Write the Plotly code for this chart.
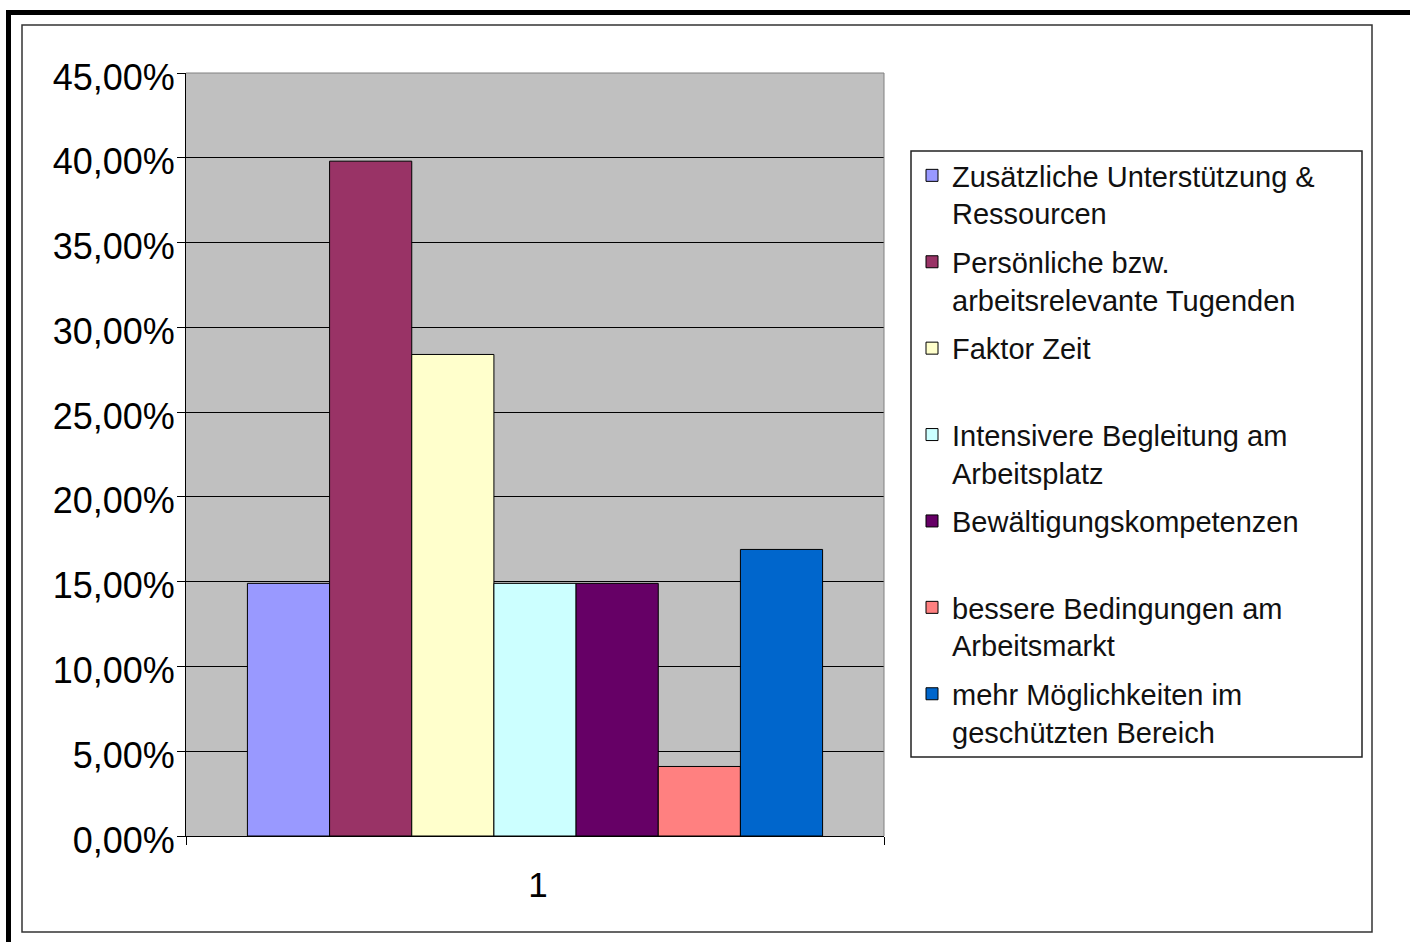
import plotly.graph_objects as go

category = ["1"]
series_names = [
    "Zusätzliche Unterstützung &<br>Ressourcen",
    "Persönliche bzw.<br>arbeitsrelevante Tugenden",
    "Faktor Zeit<br> ",
    "Intensivere Begleitung am<br>Arbeitsplatz",
    "Bewältigungskompetenzen<br> ",
    "bessere Bedingungen am<br>Arbeitsmarkt",
    "mehr Möglichkeiten im<br>geschützten Bereich",
]
series_values = [0.149, 0.398, 0.284, 0.149, 0.149, 0.041, 0.169]
series_colors = ["#9999FF", "#993366", "#FFFFCC", "#CCFFFF", "#660066", "#FF8080", "#0066CC"]
y_tickvals = [0, 0.05, 0.10, 0.15, 0.20, 0.25, 0.30, 0.35, 0.40, 0.45]

W, H = 1410, 942
L, R, T, B = 186, 884, 73, 836


def px(x):
    return (x - L) / (R - L)


def py(y):
    return (B - y) / (B - T)


fig = go.Figure()
for i, (name, val, col) in enumerate(zip(series_names, series_values, series_colors)):
    fig.add_trace(go.Bar(
        x=category, y=[val], name=name,
        marker=dict(color=col, line=dict(color="black", width=1)),
        legendgroup=f"g{i}",
    ))

fig.update_layout(
    width=W, height=H,
    margin=dict(l=L, r=W - R, t=T, b=H - B),
    paper_bgcolor="white",
    plot_bgcolor="#C0C0C0",
    barmode="group",
    bargap=0.176,
    bargroupgap=0,
    separators=",.",
    font=dict(family="Liberation Sans, Arial, sans-serif", color="black"),
    showlegend=True,
    legend=dict(
        x=px(912), y=py(150), xanchor="left", yanchor="top",
        bgcolor="rgba(255,255,255,0)", borderwidth=0,
        font=dict(size=29, family="Liberation Sans, Arial, sans-serif", color="#111"),
        valign="top",
        traceorder="grouped",
        tracegroupgap=8,
    ),
    xaxis=dict(
        type="category",
        range=[-0.5, 0.5],
        showline=True, linecolor="black", linewidth=1,
        ticks="outside", ticklen=8, tickcolor="black", tickson="boundaries",
        tickfont=dict(size=35),
        ticklabelstandoff=18,
        ticklabelshift=3,
        showgrid=False,
    ),
    yaxis=dict(
        range=[0, 0.45],
        tickvals=y_tickvals,
        tickformat=".2%",
        showline=True, linecolor="black", linewidth=1,
        ticks="outside", ticklen=8, tickcolor="black",
        tickfont=dict(size=36),
        ticklabelstandoff=-5,
        ticklabelshift=4,
        showgrid=True, gridcolor="black", gridwidth=1,
        zeroline=False,
    ),
)

shapes = []
# plot area top/right border (gray)
shapes.append(dict(type="line", xref="paper", yref="paper", x0=0, x1=1, y0=1, y1=1,
                   line=dict(color="#808080", width=1)))
shapes.append(dict(type="line", xref="paper", yref="paper", x0=1, x1=1, y0=0, y1=1,
                   line=dict(color="#808080", width=1)))
# legend box
shapes.append(dict(type="rect", xref="paper", yref="paper",
                   x0=px(911), x1=px(1362), y0=py(757), y1=py(151),
                   line=dict(color="#222", width=1.5), fillcolor="white", layer="below"))
# inner chart frame
shapes.append(dict(type="rect", xref="paper", yref="paper",
                   x0=px(22), x1=px(1372), y0=py(932), y1=py(25),
                   line=dict(color="#333", width=1.5), fillcolor="rgba(0,0,0,0)", layer="below"))
# thick outer frame bands (top and left)
shapes.append(dict(type="rect", xref="paper", yref="paper",
                   x0=px(6), x1=px(1410), y0=py(15), y1=py(10),
                   line=dict(width=0), fillcolor="black"))
shapes.append(dict(type="rect", xref="paper", yref="paper",
                   x0=px(6), x1=px(11), y0=py(942), y1=py(10),
                   line=dict(width=0), fillcolor="black"))
fig.update_layout(shapes=shapes)

fig.write_html("out.html")
